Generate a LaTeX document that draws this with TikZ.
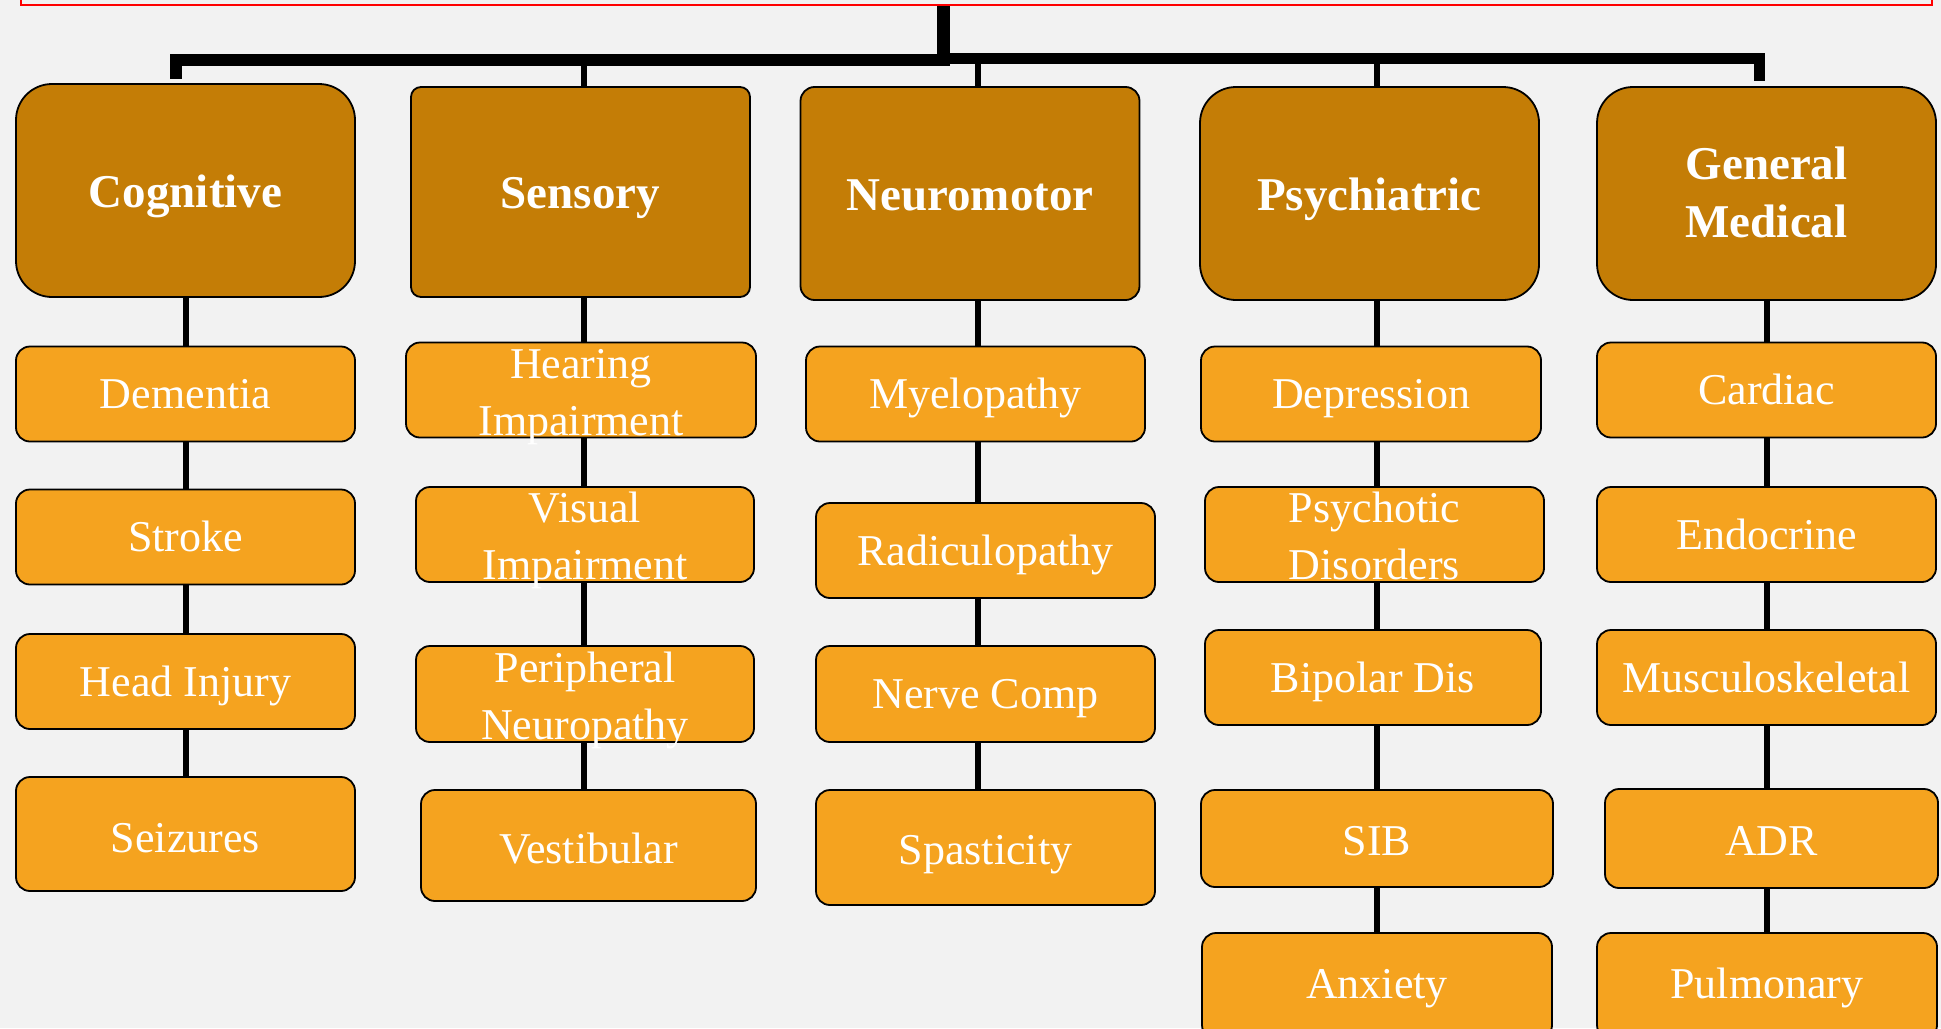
\documentclass[tikz,border=0pt]{standalone}
\usepackage{fontspec}
\setmainfont{Liberation Serif}
\definecolor{pagebg}{HTML}{F2F2F2}
\definecolor{headfill}{HTML}{C47D06}
\definecolor{subfill}{HTML}{F5A31F}
\tikzset{
  head/.style={draw=black, line width=0.9pt, fill=headfill, rounded corners=18pt,
    minimum width=169.5pt, minimum height=106.5pt, inner sep=0pt, text=white,
    align=center, text height=16.5pt, text depth=0pt,
    font=\fontsize{23.5}{29}\selectfont\bfseries},
  sub/.style={draw=black, line width=0.9pt, fill=subfill, rounded corners=7pt,
    minimum width=169.5pt, minimum height=47.5pt, inner sep=0pt, text=white,
    align=center, text height=14.5pt, text depth=0pt,
    font=\fontsize{22}{28.5}\selectfont},
  twoline/.style={text height=45pt},
  link/.style={line width=2.7pt},
  trunk/.style={line width=6.5pt},
  bar/.style={line width=6pt, line join=miter}
}
\begin{document}
\begin{tikzpicture}[x=0.5pt,y=0.5pt,yscale=-1,xscale=1]
%set diagram left start at 0, and has height of 1028
\fill[pagebg] (0,0) rectangle (1941,1028);
\useasboundingbox (0,0) rectangle (1941,1028);

%Shape: Rectangle [title, cut by the page top]
	\node[draw=red, line width=1.1pt, minimum width=955.5pt, minimum height=14pt, inner sep=0pt] (title) at (976.5,-9) {};

%Shape: Rounded Rect [headers]
	\node[head] (cog) at (185.5,190.5) {Cognitive};
	\node[head, rounded corners=5pt, minimum height=105pt] (sens) at (580.5,192) {Sensory};
	\node[head, rounded corners=7pt] (neuro) at (970,193.5) {Neuromotor};
	\node[head] (psy) at (1369.5,193.5) {Psychiatric};
	\node[head, text height=43.5pt] (gen) at (1766.5,193.5) {General\\Medical};

%column lines
	\coordinate (x1) at (186,0);
	\coordinate (x2) at (584,0);
	\coordinate (x3) at (978,0);
	\coordinate (x4) at (1377,0);
	\coordinate (x5) at (1767,0);

%Straight Lines [trunk and bar]
	\coordinate (hub) at (943.5,60);
	\coordinate (barL) at (176,60);
	\coordinate (dropL) at (176,79);
	\coordinate (barR) at (1759,58.5);
	\coordinate (dropR) at (1759,81);
	\draw[trunk] (title.south -| hub) -- (hub);
	\draw[bar] ([xshift=3pt]hub) -- (barL) -- (dropL);
	\draw[bar, line width=5.5pt] (hub |- barR) -- (barR) -- (dropR);
	\draw[link] (sens.north -| x2) -- (x2 |- hub);
	\draw[link] (neuro.north -| x3) -- (x3 |- hub);
	\draw[link] (psy.north -| x4) -- (x4 |- hub);

%Shape: Rounded Rect [Cognitive]
	\node[sub] (dem) at (185.5,394) {Dementia};
	\node[sub] (strk) at (185.5,537) {Stroke};
	\node[sub] (headinj) at (185.5,681.5) {Head Injury};
	\node[sub, minimum height=57pt, text height=18pt] (seiz) at (185.5,834) {Seizures};

%Shape: Rounded Rect [Sensory]
	\node[sub, twoline, minimum width=175pt] (hear) at (581,390) {Hearing\\Impairment};
	\node[sub, twoline, minimum width=169pt] (vis) at (585,534.5) {Visual\\Impairment};
	\node[sub, twoline, minimum width=169pt, minimum height=48pt] (periph) at (585,694) {Peripheral\\Neuropathy};
	\node[sub, minimum width=167.5pt, minimum height=55.5pt, text height=17.5pt] (vest) at (588.5,845.5) {Vestibular};

%Shape: Rounded Rect [Neuromotor]
	\node[sub] (myelo) at (975.5,394) {Myelopathy};
	\node[sub] (radic) at (985.5,550.5) {Radiculopathy};
	\node[sub, minimum height=48pt] (nerve) at (985.5,694) {Nerve Comp};
	\node[sub, minimum height=57.5pt, text height=16.5pt] (spast) at (985.5,847.5) {Spasticity};

%Shape: Rounded Rect [Psychiatric]
	\node[sub, minimum width=170pt] (depr) at (1371,394) {Depression};
	\node[sub, twoline] (psych) at (1374.5,534.5) {Psychotic\\Disorders};
	\node[sub, minimum width=168pt] (bipol) at (1373,677.5) {Bipolar Dis};
	\node[sub, minimum width=176pt, minimum height=48.5pt, text height=16.5pt] (sib) at (1377,838.5) {SIB};
	\node[sub, minimum width=175pt, minimum height=53pt, text height=12pt] (anx) at (1377,986) {Anxiety};

%Shape: Rounded Rect [General Medical]
	\node[sub] (card) at (1766.5,390) {Cardiac};
	\node[sub] (endo) at (1766.5,534.5) {Endocrine};
	\node[sub] (musc) at (1766.5,677.5) {Musculoskeletal};
	\node[sub, minimum width=166.5pt, minimum height=49.5pt, text height=16.5pt] (adr) at (1771.5,838.5) {ADR};
	\node[sub, minimum width=170pt, minimum height=53pt, text height=12pt] (pulm) at (1767,986) {Pulmonary};

%Straight Lines [column links]
	\foreach \a/\b/\c in {cog/dem/x1, dem/strk/x1, strk/headinj/x1, headinj/seiz/x1,
	    sens/hear/x2, hear/vis/x2, vis/periph/x2, periph/vest/x2,
	    neuro/myelo/x3, myelo/radic/x3, radic/nerve/x3, nerve/spast/x3,
	    psy/depr/x4, depr/psych/x4, psych/bipol/x4, bipol/sib/x4, sib/anx/x4,
	    gen/card/x5, card/endo/x5, endo/musc/x5, musc/adr/x5, adr/pulm/x5}
	  \draw[link] (\a.south -| \c) -- (\b.north -| \c);

\end{tikzpicture}
\end{document}
